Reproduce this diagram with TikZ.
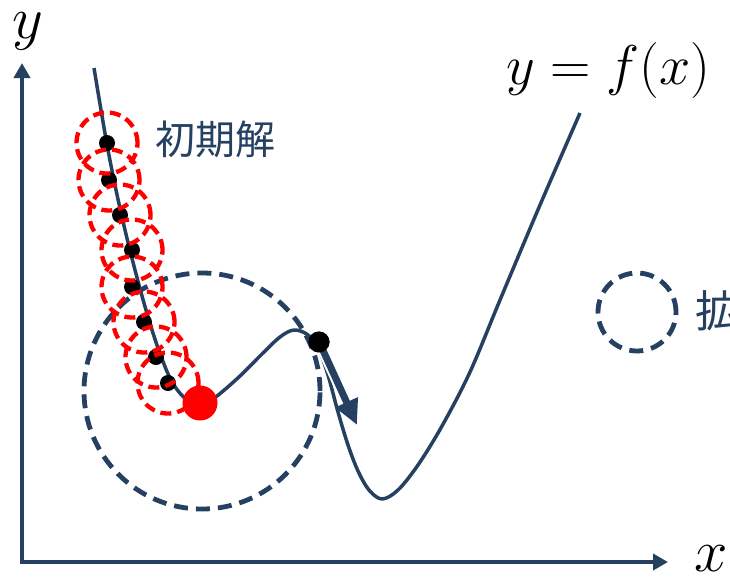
\RequirePackage{fix-cm}
\documentclass[tikz,border=0pt]{standalone}
\usepackage{fontspec}
\usetikzlibrary{arrows.meta,calc}
\newfontfamily\jpfont{Noto Sans CJK JP}
\definecolor{navy}{RGB}{38,64,98}
\definecolor{myred}{RGB}{255,0,0}
\tikzset{
  axisline/.style={draw=navy, line width=4.5pt, -{Triangle[length=15pt,width=16pt]}},
  curveline/.style={draw=navy, line width=3.5pt, line join=round},
  blackdot/.style={circle, fill=black, inner sep=0pt, minimum size=16pt},
  bigdot/.style={circle, fill=black, inner sep=0pt, minimum size=21pt},
  reddot/.style={circle, fill=myred, inner sep=0pt, minimum size=35pt},
  redring/.style={circle, draw=myred, dash pattern=on 11pt off 6pt, line width=4.3pt, minimum size=61pt, inner sep=0pt},
  navyring/.style={circle, draw=navy, dash pattern=on 14pt off 8pt, line width=4.8pt, inner sep=0pt},
  jplabel/.style={text=navy, font=\jpfont\fontsize{40}{44}\selectfont, inner sep=0pt},
  mathlabel/.style={text=black, font=\fontsize{56}{62}\selectfont, inner sep=0pt},
  axislabel/.style={text=black, font=\fontsize{60}{66}\selectfont, inner sep=0pt},
  steparrow/.style={draw=navy, line width=7pt, -{Triangle[length=25pt,width=23pt]}},
}
\begin{document}
\begin{tikzpicture}[x=1pt,y=-1pt]
\useasboundingbox (0,0) rectangle (730,576);
% axes
\coordinate (o) at (22,562);
\coordinate (ytip) at (22,63);
\coordinate (xtip) at (668,562);
\draw[axisline] ([yshift=2.25pt]o) -- (ytip);
\draw[axisline] ([xshift=-2.25pt]o) -- (xtip);
\node[axislabel, anchor=base] (ylab) at (28,38) {$y$};
\node[axislabel, anchor=base] (xlab) at (711,571) {$x$};
\node[mathlabel] (flab) at (608,70) {$y=f(x)$};
% big search circle
\node[navyring, minimum size=236pt] (big) at (202,391) {};
% curve
\draw[curveline] plot[smooth, tension=0.55] coordinates {
 (94,68) (101,110) (108,150) (116,190) (125,230) (135,270) (146,310)
 (158,348) (172,382) (188,401) (202,405) (217,396) (240,376) (262,354)
 (280,337) (294,330) (308,335) (319,350) (328,375) (338,412) (348,445)
 (358,471) (369,490) (382,499) (398,490) (418,465) (442,426) (470,372)
 (500,300) (540,205) (580,113)};
% black dots along the path
\node[blackdot] (d1) at (107,143) {};
\node[blackdot] (d2) at (109,180) {};
\node[blackdot] (d3) at (120,215) {};
\node[blackdot] (d4) at (132,250) {};
\node[blackdot] (d5) at (132,287) {};
\node[blackdot] (d6) at (144,322) {};
\node[blackdot] (d7) at (156,357) {};
\node[blackdot] (d8) at (168,383) {};
% red rings
\foreach \n in {d1,d2,d3,d4,d5,d6,d7,d8}{
  \node[redring] (r\n) at (\n) {};
}
\node[reddot] (best) at (200,403) {};
% jump point and arrow
\node[bigdot] (jump) at (319,342) {};
\coordinate (arrtip) at (357,425);
\draw[draw=white, line width=11pt] ([shift={(3,6)}]jump.center) -- ($(jump.center)!0.7!(arrtip)$);
\draw[steparrow] ([shift={(2,4)}]jump.center) -- (arrtip);
\node[bigdot] at (jump) {};
% labels
\node[jplabel, anchor=west] (init) at (155,139) {初期解};
\node[navyring, minimum size=78pt] (legend) at (637,312) {};
\node[jplabel, anchor=west, font=\jpfont\fontsize{44}{48}\selectfont] (legtext) at (695,311) {拡};
\end{tikzpicture}
\end{document}
